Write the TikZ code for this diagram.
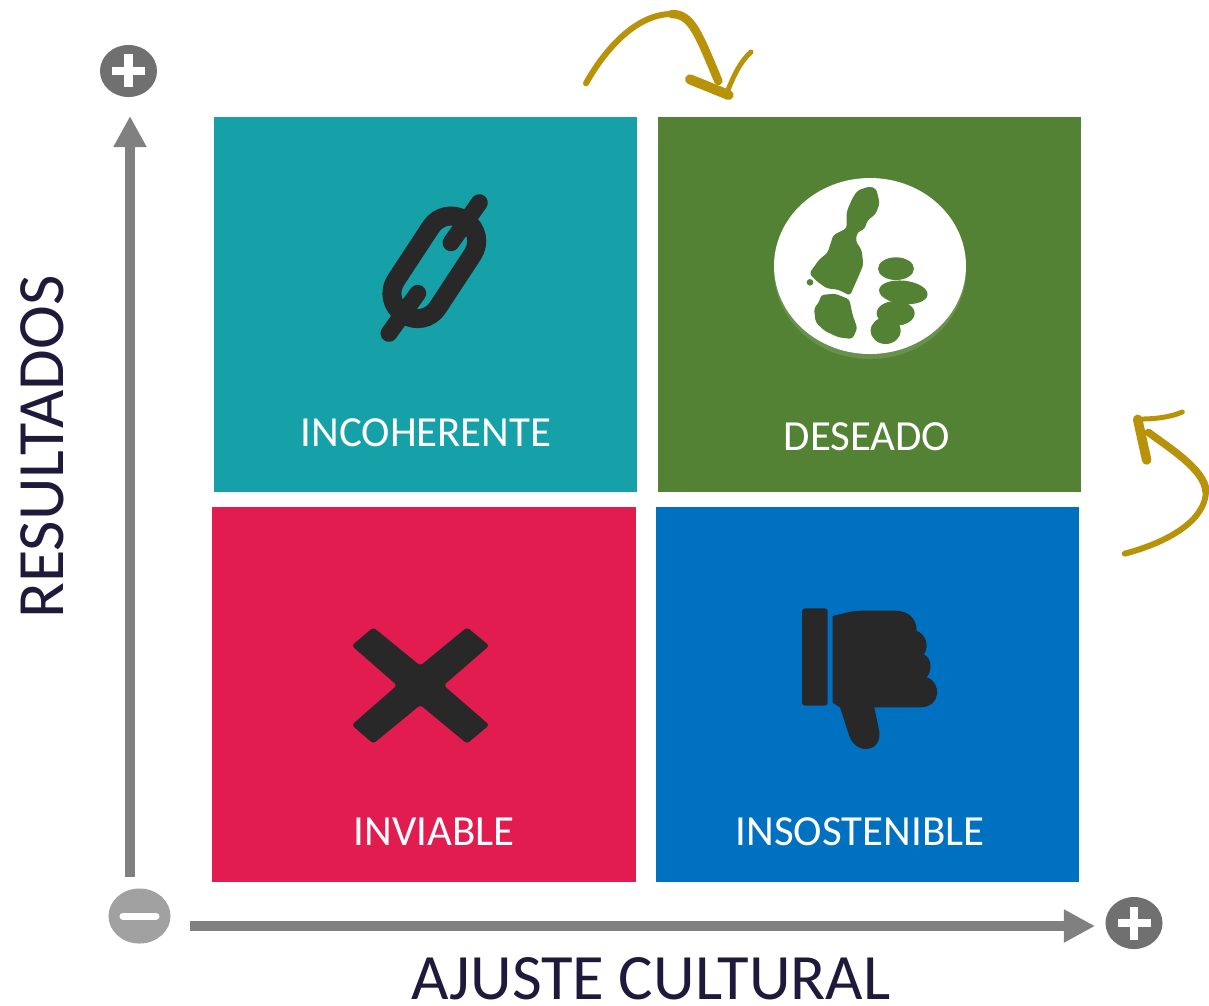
\documentclass[tikz,border=0pt]{standalone}
\usepackage{fontspec}
\setmainfont{Carlito}
\usetikzlibrary{arrows.meta,shapes.geometric}
\definecolor{tealbox}{HTML}{16A0A8}
\definecolor{greenbox}{HTML}{548235}
\definecolor{redbox}{HTML}{E31C4F}
\definecolor{bluebox}{HTML}{0070C0}
\definecolor{iconblack}{HTML}{282828}
\definecolor{goldpen}{HTML}{B8930A}
\definecolor{axisgray}{HTML}{808080}
\definecolor{axisink}{HTML}{1F1A3C}
\tikzset{
	quadbox/.style={minimum width=4.23cm, minimum height=3.75cm, inner sep=0pt},
	quadlabel/.style={text=white, font=\fontsize{12.2}{12.2}\selectfont, inner sep=0pt},
	axislabel/.style={text=axisink, font=\fontsize{18.4}{18.4}\selectfont, inner sep=0pt},
	axisline/.style={axisgray, line width=0.105cm, -{Triangle[length=0.31cm, width=0.31cm]}},
	signdot/.style={ellipse, minimum width=0.57cm, minimum height=0.52cm, inner sep=0pt, fill=#1},
	signbar/.style={white, line width=0.08cm},
	goldink/.style={goldpen, line cap=round}
}

\begin{document}
\begin{tikzpicture}[x=0.01cm, y=-0.01cm]
	%%%%% START %%%%%
	\useasboundingbox (0, 0) rectangle (1209, 1005);
	
	% quadrants
	\node[quadbox, fill=tealbox] (incoherente) at (425.5, 304.5) {};
	\node[quadbox, fill=greenbox] (deseado) at (869.5, 304.5) {};
	\node[quadbox, fill=redbox] (inviable) at (424, 694.5) {};
	\node[quadbox, fill=bluebox] (insostenible) at (867.5, 694.5) {};
	
	\node[quadlabel] (incoherentetext) at (426, 433) {INCOHERENTE};
	\node[quadlabel] (deseadotext) at (867, 437) {DESEADO};
	\node[quadlabel] (inviabletext) at (434, 832) {INVIABLE};
	\node[quadlabel] (insostenibletext) at (860, 832) {INSOSTENIBLE};
	
	% axes
	\coordinate (ybase) at (130, 877);
	\coordinate (ytip) at (130, 116);
	\coordinate (xbase) at (190, 926);
	\coordinate (xtip) at (1095, 926);
	\draw[axisline] (ybase) -- (ytip);
	\draw[axisline] (xbase) -- (xtip);
	
	\node[signdot=black!56] (yplus) at (128.5, 71) {};
	\draw[signbar] (112, 70.5) -- (145, 70.5);
	\draw[signbar] (128.5, 54) -- (128.5, 87);
	\node[signdot=black!56] (xplus) at (1134, 923) {};
	\draw[signbar] (1117.5, 923) -- (1150.5, 923);
	\draw[signbar] (1134, 906.5) -- (1134, 939.5);
	\node[signdot=black!37, minimum width=0.62cm, minimum height=0.55cm] (origin) at (139.5, 916) {};
	\draw[signbar, line width=0.07cm, line cap=round] (123, 916) -- (156, 916);
	
	\node[axislabel, rotate=90, font=\fontsize{18.8}{18.8}\selectfont] (ylabel) at (42, 447) {RESULTADOS};
	\node[axislabel] (xlabel) at (651, 979) {AJUSTE CULTURAL};
	
	% chain
	\draw[iconblack, line width=0.19cm, rounded corners=0.24cm, rotate around={56.7:(434.3, 267.3)}] (378.3, 242.3) rectangle (490.3, 292.3);
	\draw[iconblack, line width=0.17cm, line cap=round] (479.3, 202.7) -- (451, 242.7);
	\draw[iconblack, line width=0.17cm, line cap=round] (389, 333.3) -- (417.7, 293.3);
	
	% globe
	\fill[white, opacity=0.12] (870, 271) ellipse (96 and 88);
	\fill[white] (870, 266) ellipse (96 and 88);
	\begin{scope}[shift={(760, 165)}, scale=0.3333]
		\fill[greenbox, rounded corners=0.03cm] (330, 64) -- (349, 72) -- (359, 115) -- (347, 147) -- (322, 167) -- (314, 192) -- (292, 202) -- (287, 228) -- (305, 255) -- (310, 300) -- (292, 342) -- (270, 392) -- (235, 374) -- (200, 370) -- (168, 347) -- (148, 325) -- (178, 283) -- (203, 263) -- (220, 210) -- (260, 190) -- (260, 140) -- (278, 98) -- (293, 76) -- cycle;
		\fill[greenbox, rounded corners=0.03cm] (183, 390) -- (225, 386) -- (268, 403) -- (278, 450) -- (292, 490) -- (277, 522) -- (235, 517) -- (193, 497) -- (167, 472) -- (162, 430) -- (178, 410) -- cycle;
		\fill[greenbox] (150, 352) circle (10);
		\fill[greenbox] (408, 311) ellipse (54 and 34);
		\fill[greenbox, rotate around={-6:(430, 382)}] (430, 382) ellipse (73 and 35);
		\fill[greenbox] (407, 445) ellipse (57 and 37);
		\fill[greenbox] (377, 497) ellipse (45 and 40);
	\end{scope}
	
	% cross
	\begin{scope}[shift={(340, 615)}, scale=0.3333]
		\fill[iconblack, rounded corners=0.03cm] (100, 37) -- (241, 152) -- (381, 37) -- (448, 92) -- (311, 211) -- (448, 330) -- (381, 386) -- (241, 270) -- (100, 386) -- (35, 330) -- (171, 211) -- (35, 92) -- cycle;
		\fill[iconblack] (241, 152) -- (311, 211) -- (241, 270) -- (171, 211) -- cycle;
	\end{scope}
	
	% thumb
	\begin{scope}[shift={(780, 590)}, scale=0.3333]
		\fill[iconblack, rounded corners=0.03cm] (66, 55) rectangle (143, 347);
		\fill[iconblack] (158, 78) .. controls (190, 70) and (215, 62) .. (245, 62) -- (345, 62) .. controls (385, 62) and (410, 85) .. (410, 123) .. controls (435, 130) and (450, 165) .. (432, 193) .. controls (455, 205) and (458, 240) .. (440, 262) .. controls (485, 275) and (485, 352) .. (420, 352) -- (283, 352) -- (298, 425) .. controls (305, 490) and (225, 495) .. (207, 435) -- (180, 352) -- (158, 338) -- cycle;
	\end{scope}
	
	% pen arrows
	\begin{scope}[shift={(570, 0)}, scale=0.3333]
		\draw[goldink, line width=0.06cm] (48, 250) .. controls (95, 165) and (190, 42) .. (305, 42);
		\draw[goldink, line width=0.085cm] (305, 42) .. controls (365, 42) and (385, 100) .. (445, 243);
		\draw[goldink, line width=0.1cm] (360, 238) -- (476, 285);
		\draw[goldink, line width=0.05cm] (472, 275) .. controls (490, 230) and (510, 185) .. (543, 156);
	\end{scope}
	\begin{scope}[shift={(1100, 400)}, scale=0.3333]
		\draw[goldink, line width=0.075cm] (145, 97) .. controls (210, 145) and (315, 210) .. (318, 275);
		\draw[goldink, line width=0.06cm] (318, 275) .. controls (315, 360) and (210, 425) .. (74, 461);
		\draw[goldink, line width=0.095cm] (113, 58) -- (140, 180);
		\draw[goldink, line width=0.05cm] (113, 57) .. controls (160, 58) and (210, 52) .. (247, 36);
	\end{scope}
	%%%%% END %%%%%
\end{tikzpicture}
\end{document}
